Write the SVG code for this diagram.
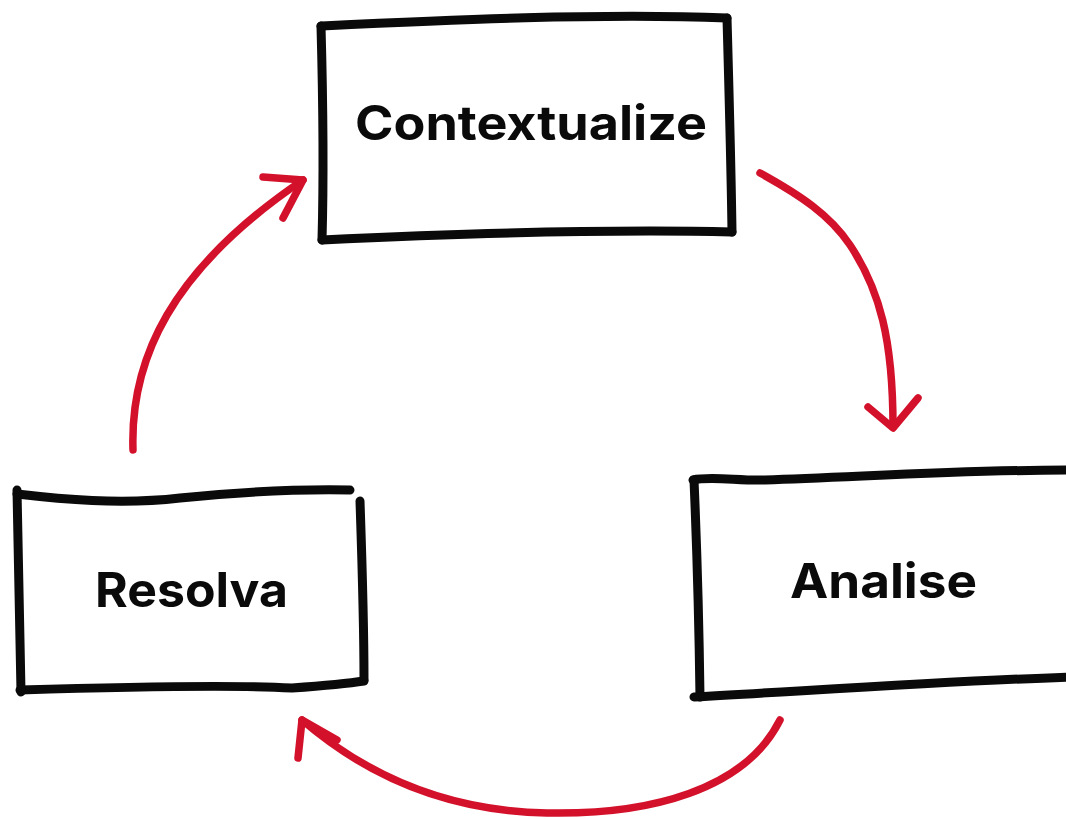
<svg xmlns="http://www.w3.org/2000/svg" width="1066" height="819" viewBox="0 0 1066 819">
  <style>
    .box { fill: none; stroke: #0a0a0a; stroke-width: 9; stroke-linecap: round; stroke-linejoin: round; }
    .label { font-family: Inter, "Noto Sans", "Liberation Sans", sans-serif; font-weight: 700; font-size: 48px; fill: #0a0a0a; }
    .flow { fill: none; stroke: #d3112b; stroke-width: 7.5; stroke-linecap: round; stroke-linejoin: round; }
  </style>
  <rect width="1066" height="819" fill="#ffffff"/>

  <!-- Top step -->
  <g id="node-contextualize">
    <path class="box" d="M321 26 C450 20 600 13 727 18"/>
    <path class="box" d="M727 18 C729 90 731 160 732 232"/>
    <path class="box" d="M732 232 C600 229 450 234 322 240"/>
    <path class="box" d="M322 240 C324 170 323 100 321 26"/>
    <text class="label" x="355" y="140" textLength="352" lengthAdjust="spacingAndGlyphs">Contextualize</text>
  </g>

  <!-- Right step -->
  <g id="node-analise">
    <path class="box" d="M693 480 C710 476 740 481 765 480 C860 477 960 470 1070 470"/>
    <path class="box" d="M694 480 C697 550 699 620 700 697"/>
    <path class="box" d="M694 697 C820 690 950 681 1070 677"/>
    <text class="label" x="790" y="598" textLength="187" lengthAdjust="spacingAndGlyphs">Analise</text>
  </g>

  <!-- Left step -->
  <g id="node-resolva">
    <path class="box" d="M17 494 C60 499 120 505 180 498 C240 492 300 489 350 490"/>
    <path class="box" d="M360 501 C362 560 364 620 364 680"/>
    <path class="box" d="M20 690 C120 687 240 685 292 688 C320 686 345 684 364 681"/>
    <path class="box" d="M17 490 C19 560 20 630 21 692"/>
    <text class="label" x="95" y="607" textLength="193" lengthAdjust="spacingAndGlyphs">Resolva</text>
  </g>

  <g id="connectors">
    <!-- Contextualize to Analise -->
    <path class="flow" d="M760 173 C800 195 830 215 850 245 C880 290 893 340 893 427"/>
    <path class="flow" d="M868 407 L893 428 L918 398"/>
    <!-- Analise to Resolva -->
    <path class="flow" d="M780 720 C745 790 650 815 547 813 C440 811 360 770 302 720"/>
    <path class="flow" d="M298 758 L302 720 L337 740"/>
    <!-- Resolva to Contextualize -->
    <path class="flow" d="M133 450 C130 360 170 270 303 180"/>
    <path class="flow" d="M263 177 L303 180 L283 218"/>
  </g>
</svg>
